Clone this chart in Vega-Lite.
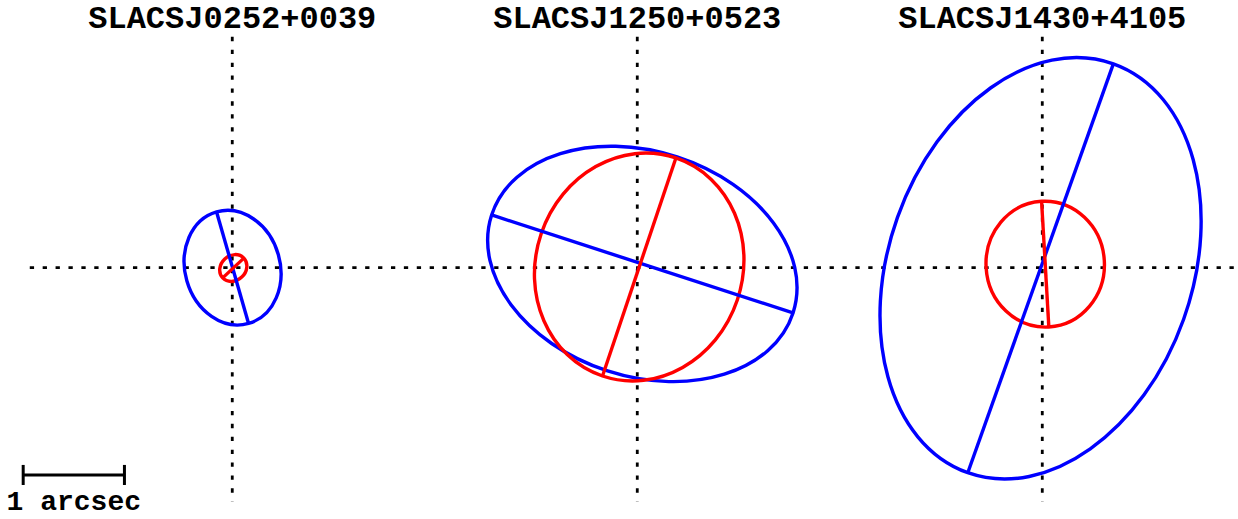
{
  "$schema": "https://vega.github.io/schema/vega-lite/v6.json",
  "width": 1238,
  "height": 519,
  "padding": 0,
  "autosize": {"type": "none"},
  "background": "white",
  "config": {"view": {"stroke": null}, "axis": {"disable": true}},
  "datasets": {
    "ellipses": [
      {"lens": "SLACSJ0252+0039", "kind": "blue", "id": "b1", "x": 0.003, "y": 0.0, "a": 0.573, "theta": 106},
      {"lens": "SLACSJ0252+0039", "kind": "red", "id": "r1", "x": 0.01, "y": -0.003, "a": 0.143, "theta": 43},
      {"lens": "SLACSJ1250+0523", "kind": "blue", "id": "b2", "x": 4.05, "y": 0.037, "a": 1.565, "theta": 162},
      {"lens": "SLACSJ1250+0523", "kind": "red", "id": "r2", "x": 4.019, "y": 0.007, "a": 1.136, "theta": 71.4},
      {"lens": "SLACSJ1430+4105", "kind": "blue", "id": "b3", "x": 7.983, "y": -0.006, "a": 2.143, "theta": 70.4},
      {"lens": "SLACSJ1430+4105", "kind": "red", "id": "r3", "x": 8.029, "y": 0.035, "a": 0.622, "theta": 93.3}
    ],
    "crosshairs": [
      {"x": -2, "x2": 10, "y": 0, "y2": 0},
      {"x": 0, "x2": 0, "y": 2.28, "y2": -2.31},
      {"x": 4, "x2": 4, "y": 2.28, "y2": -2.31},
      {"x": 8, "x2": 8, "y": 2.28, "y2": -2.31}
    ],
    "scalebar": [
      {"x": -2.065, "x2": -1.065, "y": -2.047, "y2": -2.047},
      {"x": -2.065, "x2": -2.065, "y": -1.948, "y2": -2.146},
      {"x": -1.065, "x2": -1.065, "y": -1.948, "y2": -2.146}
    ],
    "titles": [
      {"x": 0, "y": 2.364, "label": "SLACSJ0252+0039"},
      {"x": 4, "y": 2.364, "label": "SLACSJ1250+0523"},
      {"x": 8, "y": 2.364, "label": "SLACSJ1430+4105"}
    ],
    "barlabel": [
      {"x": -1.565, "y": -2.39, "label": "1 arcsec"}
    ]
  },
  "layer": [
    {
      "data": {"name": "crosshairs"},
      "mark": {"type": "rule", "color": "black", "strokeWidth": 2.8, "strokeDash": [4.3, 8.6], "strokeCap": "butt", "clip": true},
      "encoding": {
        "x": {"field": "x", "type": "quantitative", "scale": {"domain": [-2.294, 9.933], "nice": false, "zero": false}},
        "x2": {"field": "x2"},
        "y": {"field": "y", "type": "quantitative", "scale": {"domain": [-2.482, 2.644], "nice": false, "zero": false}},
        "y2": {"field": "y2"}
      }
    },
    {
      "data": {"name": "ellipses"},
      "mark": {"type": "point", "filled": false, "strokeWidth": 3.4, "opacity": 1, "clip": true},
      "encoding": {
        "x": {"field": "x", "type": "quantitative", "scale": {"domain": [-2.294, 9.933], "nice": false, "zero": false}},
        "y": {"field": "y", "type": "quantitative", "scale": {"domain": [-2.482, 2.644], "nice": false, "zero": false}},
        "shape": {"field": "id", "type": "nominal", "legend": null, "scale": {
          "domain": ["b1", "r1", "b2", "r2", "b3", "r3"],
          "range": [
            "M1,0C1,0.4529 0.5523,0.82 0,0.82C-0.5523,0.82 -1,0.4529 -1,0C-1,-0.4529 -0.5523,-0.82 0,-0.82C0.5523,-0.82 1,-0.4529 1,0Z",
            "M1,0C1,0.475 0.5523,0.86 0,0.86C-0.5523,0.86 -1,0.475 -1,0C-1,-0.475 -0.5523,-0.86 0,-0.86C0.5523,-0.86 1,-0.475 1,0Z",
            "M1,0C1,0.3921 0.5523,0.71 0,0.71C-0.5523,0.71 -1,0.3921 -1,0C-1,-0.3921 -0.5523,-0.71 0,-0.71C0.5523,-0.71 1,-0.3921 1,0Z",
            "M1,0C1,0.4971 0.5523,0.9 0,0.9C-0.5523,0.9 -1,0.4971 -1,0C-1,-0.4971 -0.5523,-0.9 0,-0.9C0.5523,-0.9 1,-0.4971 1,0Z",
            "M1,0C1,0.3866 0.5523,0.7 0,0.7C-0.5523,0.7 -1,0.3866 -1,0C-1,-0.3866 -0.5523,-0.7 0,-0.7C0.5523,-0.7 1,-0.3866 1,0Z",
            "M1,0C1,0.5192 0.5523,0.94 0,0.94C-0.5523,0.94 -1,0.5192 -1,0C-1,-0.5192 -0.5523,-0.94 0,-0.94C0.5523,-0.94 1,-0.5192 1,0Z"
          ]}},
        "size": {"field": "a", "type": "quantitative", "legend": null, "scale": {"type": "pow", "exponent": 2, "domain": [0, 3], "range": [0, 369056.25], "zero": true}},
        "angle": {"field": "theta", "type": "quantitative", "legend": null, "scale": {"domain": [0, 360], "range": [360, 0]}},
        "color": {"field": "kind", "type": "nominal", "legend": null, "scale": {"domain": ["blue", "red"], "range": ["#0000ff", "#ff0000"]}}
      }
    },
    {
      "data": {"name": "ellipses"},
      "mark": {"type": "point", "shape": "M-1,0L1,0", "filled": false, "strokeWidth": 3.4, "strokeCap": "butt", "opacity": 1, "clip": true},
      "encoding": {
        "x": {"field": "x", "type": "quantitative", "scale": {"domain": [-2.294, 9.933], "nice": false, "zero": false}},
        "y": {"field": "y", "type": "quantitative", "scale": {"domain": [-2.482, 2.644], "nice": false, "zero": false}},
        "size": {"field": "a", "type": "quantitative", "legend": null, "scale": {"type": "pow", "exponent": 2, "domain": [0, 3], "range": [0, 369056.25], "zero": true}},
        "angle": {"field": "theta", "type": "quantitative", "legend": null, "scale": {"domain": [0, 360], "range": [360, 0]}},
        "color": {"field": "kind", "type": "nominal", "legend": null, "scale": {"domain": ["blue", "red"], "range": ["#0000ff", "#ff0000"]}}
      }
    },
    {
      "data": {"name": "scalebar"},
      "mark": {"type": "rule", "color": "black", "strokeWidth": 3, "strokeCap": "butt"},
      "encoding": {
        "x": {"field": "x", "type": "quantitative", "scale": {"domain": [-2.294, 9.933], "nice": false, "zero": false}},
        "x2": {"field": "x2"},
        "y": {"field": "y", "type": "quantitative", "scale": {"domain": [-2.482, 2.644], "nice": false, "zero": false}},
        "y2": {"field": "y2"}
      }
    },
    {
      "data": {"name": "titles"},
      "mark": {"type": "text", "font": "Liberation Mono", "fontSize": 32, "fontWeight": "bold", "align": "center", "baseline": "alphabetic", "color": "black"},
      "encoding": {
        "x": {"field": "x", "type": "quantitative", "scale": {"domain": [-2.294, 9.933], "nice": false, "zero": false}},
        "y": {"field": "y", "type": "quantitative", "scale": {"domain": [-2.482, 2.644], "nice": false, "zero": false}},
        "text": {"field": "label"}
      }
    },
    {
      "data": {"name": "barlabel"},
      "mark": {"type": "text", "font": "Liberation Mono", "fontSize": 28, "fontWeight": "bold", "align": "center", "baseline": "alphabetic", "color": "black"},
      "encoding": {
        "x": {"field": "x", "type": "quantitative", "scale": {"domain": [-2.294, 9.933], "nice": false, "zero": false}},
        "y": {"field": "y", "type": "quantitative", "scale": {"domain": [-2.482, 2.644], "nice": false, "zero": false}},
        "text": {"field": "label"}
      }
    }
  ]
}
